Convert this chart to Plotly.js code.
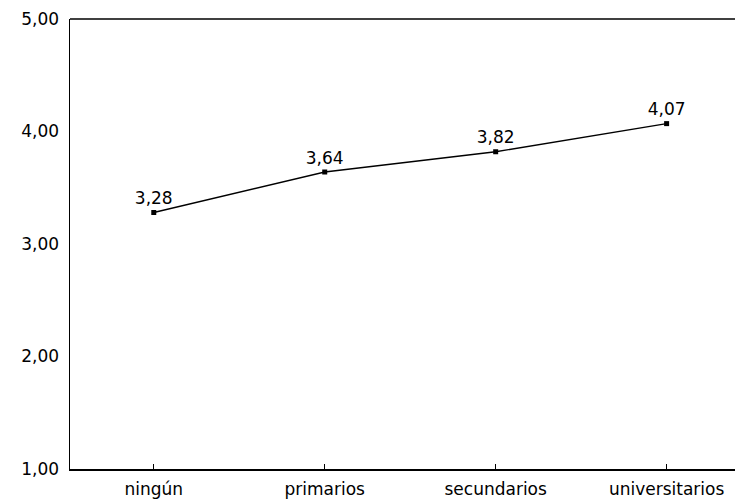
<!DOCTYPE html>
<html>
<head>
<meta charset="utf-8">
<script src="https://cdn.plot.ly/plotly-3.0.1.min.js"></script>
<style>html,body{margin:0;padding:0;background:#fff;}#chart{width:735px;height:499px;}</style>
</head>
<body>
<div id="chart"></div>
<script>
const categories = ["ningún", "primarios", "secundarios", "universitarios"];
const values = [3.28, 3.64, 3.82, 4.07];
const yTicks = [1, 2, 3, 4, 5];

const labels = values.map(v => v.toFixed(2).replace('.', ','));

const FONT = 'DejaVu Sans, Verdana, sans-serif';

const trace = {
  x: categories,
  y: values,
  type: 'scatter',
  mode: 'lines+markers+text',
  text: labels,
  textposition: 'top center',
  textfont: {family: FONT, size: 17, color: '#000'},
  line: {color: '#000', width: 1.3},
  marker: {symbol: 'square', size: 5, color: '#000'},
  cliponaxis: false,
  hoverinfo: 'skip'
};

const layout = {
  width: 735,
  height: 499,
  margin: {l: 70, r: 0, t: 19, b: 30},
  paper_bgcolor: '#fff',
  plot_bgcolor: '#fff',
  separators: ',.',
  showlegend: false,
  font: {family: FONT, size: 17, color: '#000'},
  xaxis: {
    type: 'category',
    range: [-0.49, 3.4],
    showgrid: false,
    zeroline: false,
    showline: true,
    linecolor: '#000',
    linewidth: 1.5,
    ticks: 'inside',
    ticklen: 5,
    tickwidth: 1,
    tickcolor: '#000',
    tickfont: {size: 17},
    ticklabelstandoff: 4,
    mirror: false
  },
  yaxis: {
    range: [1, 5],
    tickvals: yTicks,
    tickformat: '.2f',
    showgrid: false,
    zeroline: false,
    showline: true,
    linecolor: '#000',
    linewidth: 1.5,
    ticks: '',
    tickfont: {size: 17},
    ticklabelstandoff: 6
  },
  shapes: [{
    type: 'line', xref: 'paper', yref: 'paper',
    x0: 0, x1: 1, y0: 1, y1: 1,
    line: {color: '#000', width: 1.5}
  }]
};

Plotly.newPlot('chart', [trace], layout, {displayModeBar: false, staticPlot: true});
</script>
</body>
</html>
